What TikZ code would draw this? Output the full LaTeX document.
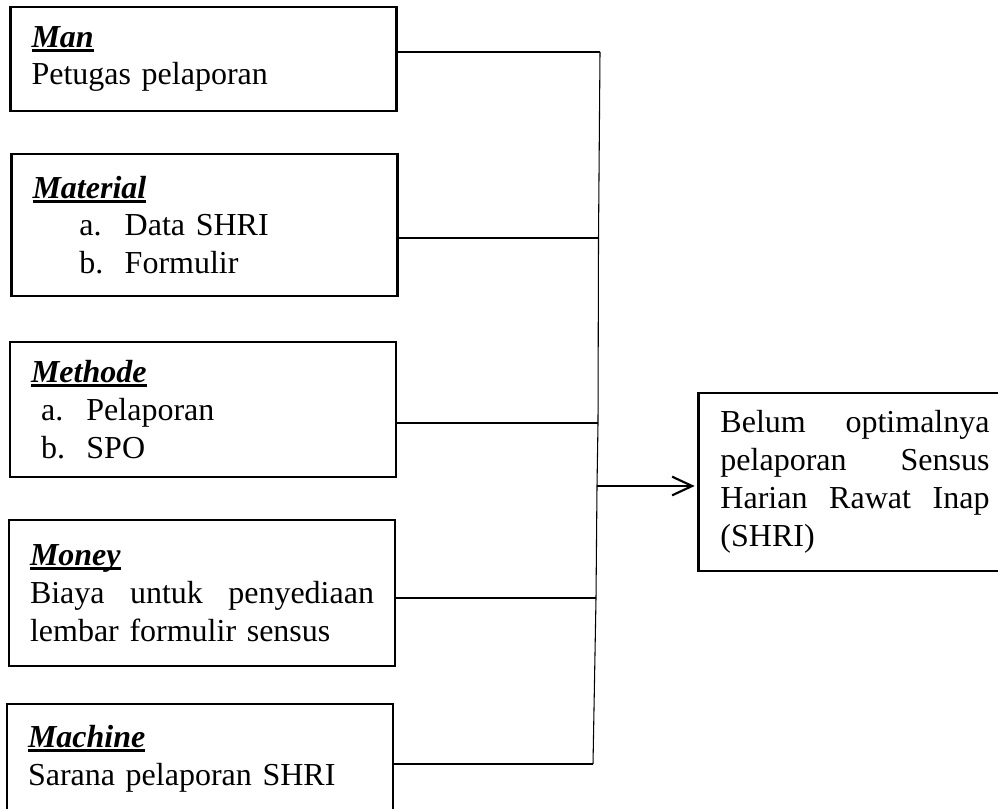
\documentclass[tikz,border=0pt]{standalone}
\usepackage{fontspec}
\setmainfont{Liberation Serif}
\usetikzlibrary{arrows.meta}

\newsavebox{\catbox}
\newcommand{\catname}[1]{%
  \sbox{\catbox}{\textbf{\textit{#1}}}%
  \rlap{\rule[-1.7pt]{\wd\catbox}{1.1pt}}\usebox{\catbox}}
\newcommand{\listitem}[2]{\hspace*{#1}\makebox[17pt][l]{#2}}

\begin{document}
\begin{tikzpicture}[
    x=0.375pt, y=0.375pt,
    box/.style={rectangle, draw, line width=0.85pt, align=left, text width=129pt, inner xsep=7.9pt, inner ysep=0pt, font=\fontsize{12}{14.2}\selectfont},
    link/.style={line width=0.4pt},
    arrow/.style={-{Straight Barb[length=7.5pt,width=7pt]}, line width=0.8pt, shorten >=1pt}
]
\useasboundingbox (0,0) rectangle (998,-809);

% Left column - the five M factors
\node[box, minimum height=39pt] (man) at (203.5,-59) {\catname{Man}\\Petugas pelaporan};
\node[box, minimum height=53.2pt] (material) at (204.5,-225) {\catname{Material}\\\listitem{17.6pt}{a.}Data SHRI\\\listitem{17.6pt}{b.}Formulir};
\node[box, minimum height=50.6pt] (methode) at (203,-409.5) {\catname{Methode}\\\listitem{3.8pt}{a.}Pelaporan\\\listitem{3.8pt}{b.}SPO};
\node[box, minimum height=54.7pt] (money) at (202,-593) {\catname{Money}\\Biaya\hfill untuk\hfill penyediaan\\lembar formulir sensus};
\node[box, minimum height=41pt] (machine) at (200,-758.5) {\catname{Machine}\\Sarana pelaporan SHRI};

% Right - the effect
\node[box, text width=100.9pt, inner xsep=8.25pt, minimum height=66.75pt] (result) at (855,-482) {Belum\hfill optimalnya\\pelaporan\hfill Sensus\\Harian\hfill Rawat\hfill Inap\\(SHRI)};

% Points on the collecting line
\coordinate (jman) at (600,-52);
\coordinate (jmat) at (598.5,-238);
\coordinate (jmet) at (598,-423);
\coordinate (jout) at (597,-486);
\coordinate (jmon) at (596,-598);
\coordinate (jmac) at (593,-764);

% Collecting line
\draw[link] (jman) -- (jmat) -- (jmet) -- (jout) -- (jmon) -- (jmac);

% Factors to collecting line
\draw[link] (man.east |- jman) -- (jman);
\draw[link] (material.east |- jmat) -- (jmat);
\draw[link] (methode.east |- jmet) -- (jmet);
\draw[link] (money.east |- jmon) -- (jmon);
\draw[link] (machine.east |- jmac) -- (jmac);

% Arrow to the effect
\draw[arrow] (jout) -- (result.west |- jout);

\end{tikzpicture}
\end{document}
